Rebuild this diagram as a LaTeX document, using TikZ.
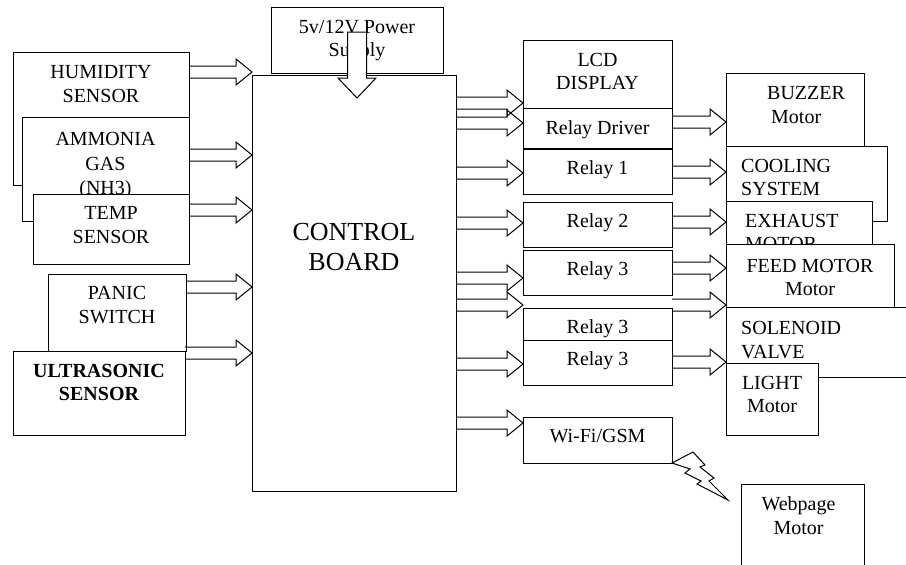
\documentclass[tikz,border=0pt]{standalone}
\usepackage{fontspec}
\setmainfont{Liberation Serif}
\usetikzlibrary{positioning}
\newcommand{\blkfont}{\fontsize{20}{23.5}\selectfont}
\newcommand{\bigfont}{\fontsize{26}{30}\selectfont}
% hollow block arrow from node #1 to node #2 at height #3
\newcommand{\hflow}[3]{%
  \path (#1.east |- 0,#3) coordinate (fs) (#2.west |- 0,#3) coordinate (ft);
  \draw[flow] ([yshift=6pt]fs) -- ([xshift=-16pt,yshift=6pt]ft) -- ([xshift=-16pt,yshift=13pt]ft)
    -- (ft) -- ([xshift=-16pt,yshift=-13pt]ft) -- ([xshift=-16pt,yshift=-6pt]ft) -- ([yshift=-6pt]fs);}

\begin{document}
\begin{tikzpicture}[x=1pt, y=-1pt,
  blk/.style={draw, fill=white, line width=1pt, inner sep=0pt, outer sep=0pt, anchor=north west},
  sz/.style 2 args={minimum width=#1pt, minimum height=#2pt},
  every label/.style={font=\blkfont, inner sep=0pt, align=center},
  flow/.style={line width=1pt},
]
\useasboundingbox (0,0) rectangle (906,565);

% inputs
\node[blk, sz={176}{133}, label={[anchor=north, yshift=-13.5pt]north:HUMIDITY\\SENSOR}] (hum) at (13,52) {};
\node[blk, sz={167}{104}, label={[anchor=north, yshift=-15.5pt, font=\fontsize{20}{24.5}\selectfont]north:AMMONIA\\GAS\\(NH3)}] (amm) at (22,117) {};
\node[blk, sz={156}{70}, label={[anchor=north, yshift=-12.5pt]north:TEMP\\SENSOR}] (temp) at (33,194) {};
\node[blk, sz={138}{77}, label={[anchor=north, yshift=-12.5pt]north:PANIC\\SWITCH}] (panic) at (48,274) {};
\node[blk, sz={172}{84}, label={[anchor=north, yshift=-13pt, font=\blkfont\bfseries]north:ULTRASONIC\\SENSOR}] (ultra) at (13,351) {};

% controller
\node[blk, sz={172}{66}, label={[anchor=north, yshift=-13pt]north:5v/12V Power\\Supply}] (power) at (271,7) {};
\node[blk, sz={204}{416}, label={[anchor=north, yshift=-148pt, font=\bigfont]north:CONTROL\\BOARD}] (ctrl) at (252,75) {};

% drivers
\node[blk, sz={149}{68}, label={[anchor=north, yshift=-13pt]north:LCD\\DISPLAY}] (lcd) at (523,40) {};
\node[blk, sz={149}{40}, below=0pt of lcd, label={[anchor=north, yshift=-12.5pt]north:Relay Driver}] (drv) {};
\node[blk, sz={149}{45}, label={[anchor=north, yshift=-11.5pt]north:Relay 1}] (r1) at (523,149) {};
\node[blk, sz={149}{45}, label={[anchor=north, yshift=-11.5pt]north:Relay 2}] (r2) at (523,202) {};
\node[blk, sz={149}{45}, label={[anchor=north, yshift=-11.5pt]north:Relay 3}] (r3a) at (523,250) {};
\node[blk, sz={149}{45}, label={[anchor=north, yshift=-11.5pt]north:Relay 3}] (r3b) at (523,308) {};
\node[blk, sz={149}{45}, label={[anchor=north, yshift=-11pt]north:Relay 3}] (r3c) at (523,340) {};
\node[blk, sz={149}{46}, label={[anchor=north, yshift=-12pt]north:Wi-Fi/GSM}] (wifi) at (523,417) {};

% outputs
\node[blk, sz={138}{77}, label={[anchor=north west, align=left, xshift=41pt, yshift=-13.5pt]north west:BUZZER\\\hspace*{4pt}Motor}] (buz) at (726,73) {};
\node[blk, sz={161}{75}, label={[anchor=north west, align=left, xshift=15pt, yshift=-13pt]north west:COOLING\\SYSTEM}] (cool) at (726,146) {};
\node[blk, sz={146}{50}, label={[anchor=north west, align=left, xshift=19pt, yshift=-13pt]north west:EXHAUST\\MOTOR}] (exh) at (726,201) {};
\node[blk, sz={168}{66}, label={[anchor=north, yshift=-15pt]north:FEED MOTOR\\Motor}] (feed) at (726,244) {};
\node[blk, sz={230}{70}, label={[anchor=north west, align=left, xshift=15pt, yshift=-14.5pt]north west:SOLENOID\\VALVE}] (sol) at (726,307) {};
\node[blk, sz={92}{72}, label={[anchor=north, yshift=-13pt]north:LIGHT\\Motor}] (light) at (726,363) {};
\node[blk, sz={123}{116}, label={[anchor=north, xshift=-4pt, yshift=-12.5pt]north:Webpage\\Motor}] (web) at (741,484) {};

% sensors into board
\hflow{hum}{ctrl}{72}
\hflow{amm}{ctrl}{155}
\hflow{temp}{ctrl}{210}
\hflow{panic}{ctrl}{287}
\hflow{ultra}{ctrl}{353}
% board out
\hflow{ctrl}{lcd}{103}
\hflow{ctrl}{drv}{123}
\hflow{ctrl}{r1}{173}
\hflow{ctrl}{r2}{223}
\hflow{ctrl}{r3a}{278}
\hflow{ctrl}{r3b}{305}
\hflow{ctrl}{r3c}{364}
\hflow{ctrl}{wifi}{423}
% relays to loads
\hflow{drv}{buz}{122}
\hflow{r1}{cool}{172}
\hflow{r2}{exh}{222}
\hflow{r3a}{feed}{268}
\hflow{r3b}{sol}{305}
\hflow{r3c}{light}{362}

% supply
\path ([yshift=-25pt]power.north) coordinate (ps) (ps |- ctrl.north) coordinate (pc);
\draw[flow, fill=white] ([xshift=-9.5pt]ps) -- ([xshift=-9.5pt,yshift=-3pt]pc) -- ([xshift=-19pt,yshift=-3pt]pc)
  -- ([yshift=-23pt]pc) -- ([xshift=19pt,yshift=-3pt]pc) -- ([xshift=9.5pt,yshift=-3pt]pc) -- ([xshift=9.5pt]ps) -- cycle;

% wireless link
\draw[flow] (wifi.south east) -- ++(21,-11) -- ++(12,13) -- ++(-5,2) -- ++(14,11) -- ++(-5,3) -- ++(19,19)
  -- ++(-31,-16) -- ++(4,-3) -- ++(-16,-8) -- ++(5,-4) -- cycle;
\end{tikzpicture}
\end{document}
